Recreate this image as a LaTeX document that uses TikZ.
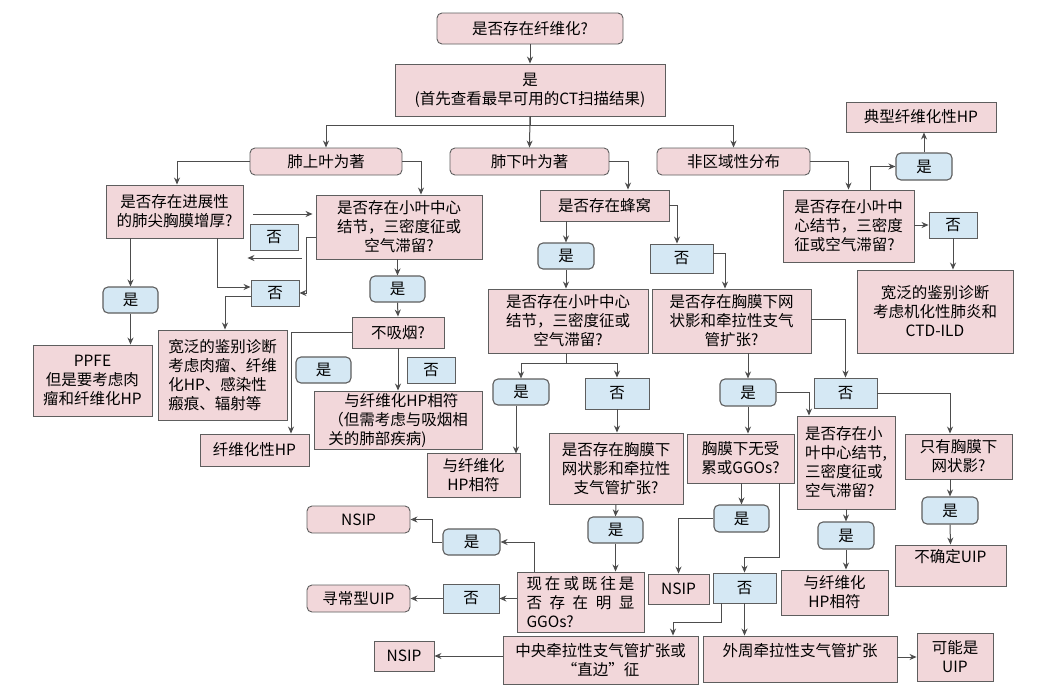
\documentclass[tikz,border=0pt]{standalone}
\usepackage{fontspec}
\setmainfont{Noto Sans CJK SC}
\usetikzlibrary{arrows.meta}
\definecolor{Blush}{HTML}{F2D7DA}
\definecolor{Sky}{HTML}{D5E8F4}
\definecolor{Edge}{HTML}{5E5E5E}
\definecolor{Wire}{HTML}{4D4D4D}
\begin{document}
\begin{tikzpicture}[x=1pt,y=-1pt,font=\fontsize{15.5}{19}\selectfont,box/.style={draw=Edge,fill=Blush,line width=0.9pt,inner sep=0pt,align=center},rbox/.style={box,rounded corners=5pt},ans/.style={draw=Edge,fill=Sky,line width=0.9pt,inner sep=0pt},ansr/.style={ans,rounded corners=5pt,line width=1.1pt},wh/.style 2 args={minimum width=#1pt,minimum height=#2pt},link/.style={draw=Wire,line width=1pt,-{Stealth[length=7pt,width=6pt]}}]
\fill[white] (0,0) rectangle (1050,694);
\useasboundingbox (0,0) rectangle (1050,694);
\node[rbox,wh={186}{31}] (fib) at (530,28.5) {是否存在纤维化?};
\node[box,wh={270}{52}] (ct) at (530,90) {是\\(首先查看最早可用的CT扫描结果)};
\node[rbox,wh={152}{27}] (upper) at (326,161.5) {肺上叶为著};
\node[rbox,wh={159}{27}] (lower) at (529.5,161.5) {肺下叶为著};
\node[rbox,wh={153}{27}] (diffuse) at (733.5,161.5) {非区域性分布};
\node[box,wh={137}{53}] (apex) at (174.5,211.5) {是否存在进展性\\的肺尖胸膜增厚?};
\node[box,wh={166}{64}] (cnL) at (399,227) {是否存在小叶中心\\结节，三密度征或\\空气滞留?};
\node[ans,wh={48}{26}] (noA) at (274,237) {否};
\node[ans,wh={48}{26}] (noB) at (275,293) {否};
\node[ansr,wh={55}{26}] (yesA) at (130.5,300) {是};
\node[box,wh={119}{71}] (ppfe) at (92.5,380.5) {PPFE\\但是要考虑肉\\瘤和纤维化HP};
\node[box,wh={129}{90},align=left] (broadL) at (222.5,375) {宽泛的鉴别诊断\\考虑肉瘤、纤维\\化HP、感染性\\瘢痕、辐射等};
\node[ansr,wh={55}{26}] (yesB) at (397.5,289) {是};
\node[box,wh={92}{31}] (smoke) at (398,332.5) {不吸烟?};
\node[box,wh={109}{32}] (fhp) at (254.5,450) {纤维化性HP};
\node[ansr,wh={55}{26}] (yesC) at (323.5,370) {是};
\node[ans,wh={48}{26}] (noC) at (431,370) {否};
\node[box,wh={168}{58},align=left] (hpSmk) at (398,420) {\hspace*{16pt}与纤维化HP相符\\（但需考虑与吸烟相\\关的肺部疾病)};
\node[box,wh={129}{31}] (honey) at (604.5,205.5) {是否存在蜂窝};
\node[ansr,wh={56}{26}] (yesD) at (566,256) {是};
\node[ans,wh={63}{29}] (noD) at (681.5,258.5) {否};
\node[box,wh={160}{64}] (cnM) at (568,321) {是否存在小叶中心\\结节，三密度征或\\空气滞留?};
\node[box,wh={159}{64}] (retM) at (731.5,321) {是否存在胸膜下网\\状影和牵拉性支气\\管扩张?};
\node[ansr,wh={56}{26}] (yesE) at (521,392) {是};
\node[ans,wh={64}{31}] (noE) at (617,393.5) {否};
\node[box,wh={93}{44}] (hpA) at (473.5,475) {与纤维化\\HP相符};
\node[box,wh={134}{71}] (retB) at (616,468.5) {是否存在胸膜下\\网状影和牵拉性\\支气管扩张?};
\node[ansr,wh={55}{26}] (yesF) at (615.5,530) {是};
\node[box,wh={127}{60},align=left,text width=108pt] (ggo) at (580.5,602) {\makebox[108pt][s]{现\hfill 在\hfill 或\hfill 既\hfill 往\hfill 是}\\\makebox[108pt][s]{否\hfill 存\hfill 在\hfill 明\hfill 显}\\GGOs?};
\node[ansr,wh={57}{26}] (yesG) at (471.5,542) {是};
\node[rbox,wh={103}{27}] (nsipA) at (358.5,519.5) {NSIP};
\node[ans,wh={56}{29}] (noG) at (471,598.5) {否};
\node[rbox,wh={103}{27}] (uip) at (358.5,598.5) {寻常型UIP};
\node[box,wh={195}{48}] (central) at (600.5,660) {中央牵拉性支气管扩张或\\“直边”征};
\node[box,wh={60}{30}] (nsipB) at (404,656) {NSIP};
\node[ansr,wh={56}{27}] (yesH) at (748,392.5) {是};
\node[ans,wh={63}{30}] (noH) at (845.5,393) {否};
\node[box,wh={98}{93},align=left] (cnR) at (846,462.5) {是否存在小\\叶中心结节,\\三密度征或\\空气滞留?};
\node[box,wh={107}{49}] (subp) at (740.5,458.5) {胸膜下无受\\累或GGOs?};
\node[box,wh={107}{45}] (retOnly) at (958.5,456.5) {只有胸膜下\\网状影?};
\node[ansr,wh={55}{27}] (yesI) at (741.5,518.5) {是};
\node[box,wh={61}{30}] (nsipC) at (678.5,589) {NSIP};
\node[ans,wh={63}{30}] (noI) at (744.5,588) {否};
\node[box,wh={194}{46}] (periph) at (800,659) {外周牵拉性支气管扩张\\\mbox{}};
\node[box,wh={76}{48}] (maybe) at (955,657) {可能是\\UIP};
\node[ansr,wh={56}{27}] (yesJ) at (846,535.5) {是};
\node[box,wh={107}{45}] (hpB) at (834.5,592.5) {与纤维化\\HP相符};
\node[ansr,wh={56}{27}] (yesK) at (950,510.5) {是};
\node[box,wh={111}{41}] (uipInd) at (950.5,565.5) {不确定UIP\\\mbox{}};
\node[box,wh={150}{30}] (typHP) at (921,117) {典型纤维化性HP};
\node[ansr,wh={56}{27}] (yesR) at (924,166.5) {是};
\node[box,wh={131}{72},align=left] (cnRt) at (848.5,226) {是否存在小叶中\\心结节，三密度\\征或空气滞留?};
\node[ans,wh={48}{26}] (noR) at (953,225) {否};
\node[box,wh={156}{83}] (broadR) at (935,311.5) {宽泛的鉴别诊断\\考虑机化性肺炎和\\CTD-ILD};
\draw[link] (fib.south) -- (ct.north);
\draw[link] (ct.south) -- (lower.north);
\draw[link] (ct.south) -- ++(0,9) -| (upper.north);
\draw[link] (ct.south) -- ++(0,9) -| (diffuse.north);
\draw[link] (upper.west) -| ([xshift=2.5pt]apex.north);
\draw[link] (upper.east) -| ([xshift=22pt]cnL.north);
\draw[link,shorten <=10pt,shorten >=3pt] ([yshift=-2.5pt]apex.east) -- ([yshift=-2.5pt]apex.east -| cnL.west);
\draw[link,shorten <=14pt,shorten >=4pt] ([yshift=-31pt]cnL.west) -- ([yshift=-31pt]cnL.west -| apex.east);
\draw[link] ([xshift=42.5pt]apex.south) |- ([yshift=6pt]noB.west);
\draw[link] ([yshift=-10pt]cnL.west) -- ++(-9,0) |- (noB.east);
\draw[link] ([yshift=-3pt]noB.west) -| ([xshift=2.5pt]broadL.north);
\draw[link] (yesA.north |- apex.south) -- (yesA.north);
\draw[link] (yesA.south) -- (yesA.south |- ppfe.north);
\draw[link] (yesB.north |- cnL.south) -- (yesB.north);
\draw[link] (yesB.south) -- (smoke.north);
\draw[link] (smoke.west) -| ([xshift=36.5pt]fhp.north);
\draw[link] (smoke.south) -- (hpSmk.north);
\draw[link] (lower.east) -| ([xshift=23.5pt]honey.north);
\draw[link] (yesD.north |- honey.south) -- (yesD.north);
\draw[link] (honey.east) -| ([xshift=-4.5pt]noD.north);
\draw[link] (yesD.south) -- (yesD.south |- cnM.north);
\draw[link] ([yshift=5pt]noD.east) -| ([xshift=-6.5pt]retM.north);
\draw[link] ([xshift=-2pt]cnM.south) -- ++(0,10) -| (yesE.north);
\draw[link] ([xshift=-2pt]cnM.south) -- ++(0,10) -| (noE.north);
\draw[link] ([xshift=-5pt]yesE.south) -- ++(0,48);
\draw[link] (noE.south) -- (noE.south |- retB.north);
\draw[link] (retB.south) -- (yesF.north);
\draw[link] (yesF.south) -- (yesF.south |- ggo.north);
\draw[link] ([xshift=-46.5pt]ggo.north) |- (yesG.east);
\draw[link] (yesG.west) -- ++(-10,0) |- (nsipA.east);
\draw[link] (ggo.west |- noG.east) -- (noG.east);
\draw[link] (noG.west) -- (uip.east);
\draw[link] (central.west |- nsipB.east) -- (nsipB.east);
\draw[link] (yesH.north |- retM.south) -- (yesH.north);
\draw[link] ([yshift=2pt]retM.east) -| (noH.north);
\draw[link] (yesH.east) -| ([xshift=-37pt]cnR.north);
\draw[link] (yesH.south) -- (yesH.south |- subp.north);
\draw[link] (noH.east) -| ([xshift=-8.5pt]retOnly.north);
\draw[link] (yesI.north |- subp.south) -- (yesI.north);
\draw[link] (yesI.west) -| (nsipC.north);
\draw[link] ([xshift=38.5pt]subp.south) -- ++(0,74) -| (noI.north);
\draw[link] ([xshift=-23.5pt]noI.south) -- ++(0,19) -| ([xshift=72.5pt]central.north);
\draw[link] (noI.south) -- (noI.south |- periph.north);
\draw[link] (periph.east |- maybe.west) -- (maybe.west);
\draw[link] (cnR.south) -- (yesJ.north);
\draw[link] (yesJ.south) -- (yesJ.south |- hpB.north);
\draw[link] (yesK.north |- retOnly.south) -- (yesK.north);
\draw[link] (yesK.south) -- (uipInd.north);
\draw[link] (diffuse.east) -| (cnRt.north);
\draw[link] ([xshift=21.5pt]cnRt.north) |- (yesR.west);
\draw[link] (yesR.north) -- (yesR.north |- typHP.south);
\draw[link] (cnRt.east |- noR.west) -- (noR.west);
\draw[link] (noR.south) -- (noR.south |- broadR.north);
\end{tikzpicture}
\end{document}
